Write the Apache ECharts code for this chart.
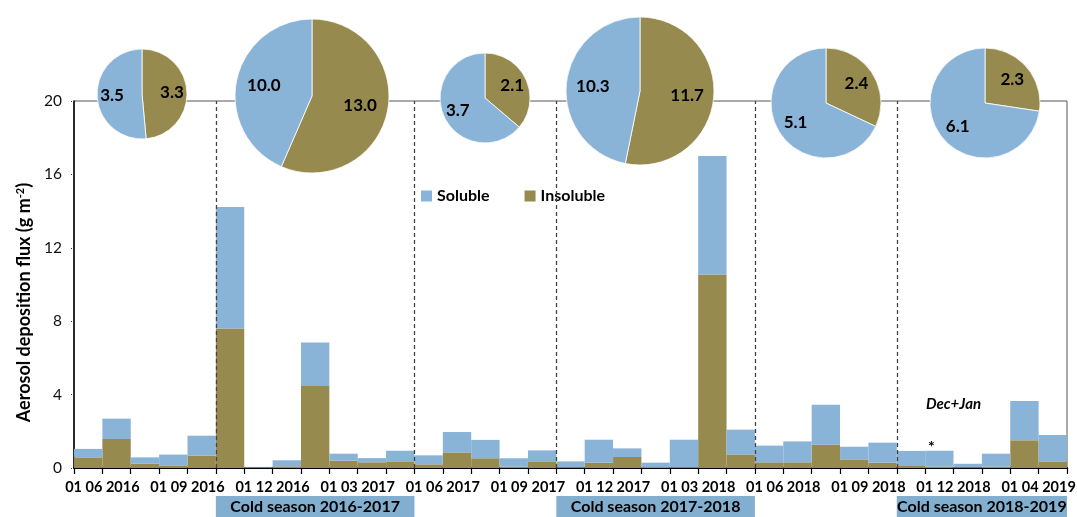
<!DOCTYPE html>
<html>
<head>
<meta charset="utf-8">
<script src="https://cdn.jsdelivr.net/npm/echarts@6/dist/echarts.min.js"></script>
<style>
html, body { margin: 0; padding: 0; background: #fff; }
#chart { width: 1077px; height: 517px; }
</style>
</head>
<body>
<div id="chart"></div>
<script>
// sampling periods (one bar each)
var periods = ['1', '2', '3', '4', '5', '6', '7', '8', '9', '10', '11', '12', '13', '14', '15', '16', '17', '18',
    '19', '20', '21', '22', '23', '24', '25', '26', '27', '28', '29', '30', '31', '32', '33', '34', '35'];
// labels sit on the boundaries between bars (36 boundaries)
var tickLabels = ['', '01 06 2016', '', '', '01 09 2016', '', '', '01 12 2016', '', '', '01 03 2017', '', '',
    '01 06 2017', '', '', '01 09 2017', '', '', '01 12 2017', '', '', '01 03 2018', '', '', '01 06 2018', '', '',
    '01 09 2018', '', '', '01 12 2018', '', '', '01 04 2019', ''];
var insoluble = [0.58, 1.58, 0.23, 0.14, 0.67, 7.6, 0.02, 0.09, 4.47, 0.40, 0.31, 0.33, 0.20, 0.85, 0.53, 0.07, 0.33, 0.02,
    0.29, 0.60, 0.01, 0.02, 10.55, 0.74, 0.31, 0.31, 1.27, 0.47, 0.29, 0.11, 0.07, 0.03, 0.07, 1.51, 0.36];
var soluble = [0.46, 1.11, 0.35, 0.59, 1.09, 6.62, 0.04, 0.33, 2.37, 0.38, 0.23, 0.61, 0.49, 1.11, 1.00, 0.46, 0.63, 0.34,
    1.25, 0.47, 0.28, 1.52, 6.45, 1.35, 0.91, 1.14, 2.18, 0.69, 1.09, 0.82, 0.87, 0.20, 0.71, 2.14, 1.44];
// pie totals per season
var pieSoluble = [3.5, 10.0, 3.7, 10.3, 5.1, 6.1];
var pieInsoluble = [3.3, 13.0, 2.1, 11.7, 2.4, 2.3];
// season separators (boundary index)
var seasonBounds = [5, 12, 17, 24, 29];
var seasons = [
    {name: 'Cold season 2016-2017', from: 5, to: 12},
    {name: 'Cold season 2017-2018', from: 17, to: 24},
    {name: 'Cold season 2018-2019', from: 29, to: 35}
];

var BLUE = '#8ab3d8', OLIVE = '#978a4f';
var FONT = 'Lato';

var pieCenters = [[142, 94], [312, 96], [485, 98], [640, 91], [826, 103], [985, 103]];
var pieRadii = [45, 77, 45, 74, 55, 55];

var chart = echarts.init(document.getElementById('chart'), null, {renderer: 'canvas'});

var series = [
    {
        name: 'Insoluble', type: 'bar', stack: 'flux', data: insoluble,
        barCategoryGap: '0%', itemStyle: {color: OLIVE}
    },
    {
        name: 'Soluble', type: 'bar', stack: 'flux', data: soluble,
        barCategoryGap: '0%', itemStyle: {color: BLUE},
        markPoint: {
            silent: true, symbol: 'circle', symbolSize: 1,
            itemStyle: {color: 'rgba(0,0,0,0)'},
            label: {show: true, position: 'inside', formatter: '*', color: '#000', fontFamily: FONT, fontWeight: 'bold', fontSize: 16, offset: [-8, 0]},
            data: [{coord: [30, 1.16]}]
        }
    },
    {
        // helper on the boundary axis: season separators + note
        type: 'line', xAxisIndex: 1, data: [], silent: true,
        markLine: {
            silent: true, symbol: 'none', animation: false,
            lineStyle: {type: [4, 3], color: '#444', width: 1.3},
            label: {show: false},
            data: seasonBounds.map(function (b) { return {xAxis: b}; })
        },
        markPoint: {
            silent: true, symbol: 'circle', symbolSize: 1,
            itemStyle: {color: 'rgba(0,0,0,0)'},
            label: {show: true, position: 'inside', formatter: 'Dec+Jan', color: '#000', fontFamily: FONT, fontWeight: 'bold', fontStyle: 'italic', fontSize: 15},
            data: [{coord: [31, 3.5]}]
        }
    }
];

pieCenters.forEach(function (c, i) {
    var r = pieRadii[i];
    series.push({
        type: 'pie', center: c, radius: [0, r], startAngle: 90, clockwise: true, silent: true, z: 5,
        label: {show: false}, labelLine: {show: false},
        itemStyle: {borderColor: '#fff', borderWidth: 0.8},
        data: [
            {name: 'Insoluble', value: pieInsoluble[i], itemStyle: {color: OLIVE}},
            {name: 'Soluble', value: pieSoluble[i], itemStyle: {color: BLUE}}
        ]
    });
    // transparent ring just to place labels further out
    series.push({
        type: 'pie', center: c, radius: [r * 0.2, r], startAngle: 90, clockwise: true, silent: true, z: 6,
        labelLine: {show: false},
        label: {
            show: true, position: 'inside', color: '#000', fontFamily: FONT, fontWeight: 'bold', fontSize: 17,
            formatter: function (p) { return p.value.toFixed(1); }
        },
        itemStyle: {color: 'rgba(0,0,0,0)'},
        data: [
            {name: 'Insoluble', value: pieInsoluble[i]},
            {name: 'Soluble', value: pieSoluble[i]}
        ]
    });
});

var option = {
    animation: false,
    backgroundColor: '#fff',
    grid: {
        left: 74, right: 10, top: 101, bottom: 49,
        show: true, borderColor: '#555', borderWidth: 1,
        outerBoundsMode: 'none'
    },
    legend: {
        data: ['Soluble', 'Insoluble'],
        left: 416, top: 183,
        icon: 'rect', itemWidth: 11, itemHeight: 11, itemGap: 35,
        selectedMode: false,
        textStyle: {fontFamily: FONT, fontWeight: 'bold', fontSize: 16, color: '#000'}
    },
    xAxis: [
        {
            type: 'category', data: periods, boundaryGap: true,
            axisLine: {lineStyle: {color: '#000', width: 2}},
            axisTick: {show: true, interval: 0, length: 6, lineStyle: {color: '#000', width: 1.2}},
            axisLabel: {show: false}
        },
        {
            type: 'category', data: tickLabels.map(function (t, i) { return 'b' + i; }), boundaryGap: false,
            position: 'bottom',
            axisLine: {show: false}, axisTick: {show: false},
            axisLabel: {
                interval: 0, margin: 12, color: '#000', fontFamily: FONT, fontWeight: 'bold', fontSize: 14.5,
                formatter: function (v, i) { return tickLabels[i]; }
            }
        }
    ],
    yAxis: {
        type: 'value', min: 0, max: 20, interval: 4,
        name: 'Aerosol deposition flux (g m{sup|-2})',
        nameLocation: 'middle', nameGap: 34,
        nameTextStyle: {
            fontFamily: FONT, fontWeight: 'bold', fontSize: 18, color: '#000',
            padding: [0, 36, 0, 0],
            rich: {sup: {fontFamily: FONT, fontWeight: 'bold', fontSize: 11, verticalAlign: 'top', color: '#000'}}
        },
        axisLine: {show: true, lineStyle: {color: '#000', width: 1.5}},
        axisTick: {show: true, length: 4, lineStyle: {color: '#333', type: 'dotted'}},
        axisLabel: {margin: 12, color: '#111', fontFamily: FONT, fontSize: 15.5},
        splitLine: {show: false}
    },
    series: series
};

chart.setOption(option);

// cold season boxes under the axis, placed through the boundary axis
var y0 = chart.convertToPixel({yAxisIndex: 0}, 0);
var boxes = seasons.map(function (s) {
    var a = chart.convertToPixel({xAxisIndex: 1}, s.from);
    var b = chart.convertToPixel({xAxisIndex: 1}, s.to);
    return {
        type: 'group',
        children: [
            {type: 'rect', shape: {x: a, y: y0 + 28, width: b - a, height: 24}, style: {fill: '#82afcf'}},
            {
                type: 'text', x: (a + b) / 2, y: y0 + 39,
                style: {
                    text: s.name, font: 'bold 16px ' + FONT, fill: '#000',
                    align: 'center', verticalAlign: 'middle', textAlign: 'center', textVerticalAlign: 'middle'
                }
            }
        ]
    };
});
chart.setOption({graphic: boxes});
</script>
</body>
</html>
